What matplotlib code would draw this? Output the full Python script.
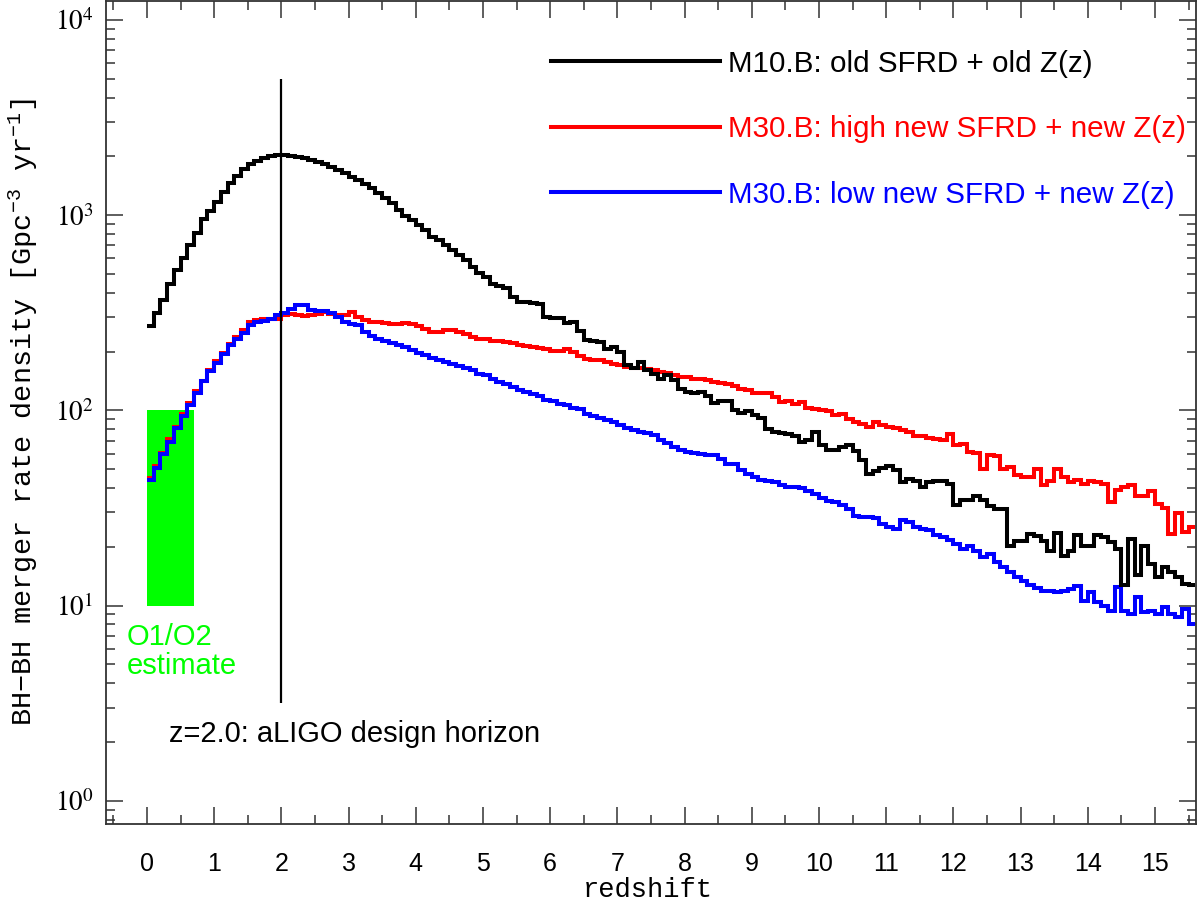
import matplotlib
matplotlib.use("Agg")
import matplotlib.pyplot as plt
import numpy as np
from matplotlib.lines import Line2D
from matplotlib.ticker import MultipleLocator, LogLocator, NullFormatter, FixedLocator

# ---------------- data ----------------
z_start = 0.0
bin_width = 0.1

rate_m10_old = [
    271, 315, 369, 443, 522, 606, 701, 814, 950, 1049,
    1171, 1307, 1453, 1585, 1714, 1820, 1900, 1969, 2010, 2024,
    2024, 2016, 1991, 1954, 1915, 1863, 1819, 1770, 1702, 1636,
    1573, 1511, 1442, 1371, 1291, 1218, 1148, 1061, 988, 942,
    889, 838, 774, 745, 702, 661, 623, 587, 543, 506,
    483, 443, 433, 421, 381, 359, 357, 355, 352, 301,
    298, 296, 280, 283, 255, 229, 226, 224, 207, 211,
    199, 170, 164, 177, 160, 154, 145, 151, 143, 129,
    124, 122, 124, 119, 109, 112, 112, 100, 96.9, 99.3,
    94.3, 91.6, 80.5, 77.4, 76.5, 75.9, 73.6, 68.9, 70.2, 77.4,
    66.1, 62.8, 62.8, 64.9, 66.1, 61.8, 55.4, 47.3, 48.8, 50.8,
    51.6, 49.6, 42.9, 44.6, 43.7, 40.7, 42.9, 43.7, 43.7, 42.1,
    32.6, 34.8, 34.8, 36.6, 34.8, 32.2, 31.3, 31.3, 20.3, 21.5,
    21.5, 23.3, 22.6, 21.5, 19.1, 23.5, 18.0, 19.1, 22.9, 20.3,
    20.3, 23.1, 22.4, 21.1, 19.5, 12.7, 22.0, 14.3, 20.3, 16.4,
    14.0, 15.7, 14.8, 14.0, 12.9, 12.7,
]

rate_m30_high = [
    45.0, 51.6, 60.4, 71.0, 82.2, 95.3, 109, 125, 142, 160,
    178, 197, 218, 238, 257, 282, 290, 292, 294, 295,
    307, 313, 309, 303, 307, 313, 319, 313, 307, 307,
    319, 301, 290, 284, 282, 281, 278, 278, 281, 278,
    270, 262, 252, 252, 257, 257, 252, 247, 238, 233,
    233, 227, 227, 224, 220, 215, 213, 211, 209, 205,
    202, 202, 206, 199, 189, 184, 182, 180, 177, 173,
    170, 167, 165, 165, 162, 160, 157, 155, 151, 149,
    148, 145, 144, 142.5, 139.7, 138, 137, 133, 129, 127,
    122, 123, 123, 117, 110, 112, 108, 110, 103, 101,
    100, 99.3, 94.3, 96.1, 90.6, 87.1, 85.5, 82.1, 87.1, 83.8,
    82.1, 81.1, 79.6, 77.4, 73.6, 73.6, 72.5, 71.6, 70.8, 75.4,
    66.1, 67.4, 61.1, 60.4, 50.2, 58.8, 58.1, 50.2, 51.2, 46.4,
    45.8, 45.5, 50.2, 41.2, 43.4, 50.2, 45.5, 42.9, 44.1, 42.1,
    43.4, 42.7, 41.7, 33.9, 38.9, 40.5, 41.2, 36.6, 36.2, 38.5,
    33.2, 31.7, 23.3, 29.7, 23.8, 25.4,
]

rate_m30_low = [
    43.8, 50.6, 60.0, 68.8, 81.2, 93.5, 107, 123, 141, 159,
    175, 194, 215, 233, 250, 273, 285, 288, 295, 307,
    316, 330, 348, 348, 326, 324, 322, 316, 301, 284,
    278, 275, 252, 240, 231, 226, 221, 217, 211, 203,
    197, 191, 186, 182, 177, 173, 168, 164, 160, 154,
    151, 145, 140, 136, 132, 127, 124, 121, 118, 113,
    111, 108, 106, 103, 101, 96, 93, 91, 89, 87,
    83.8, 81.5, 78.9, 77.4, 76.5, 74.5, 70.2, 68.0, 64.9, 62.5,
    61.5, 60.5, 60.0, 59.3, 58.8, 56.5, 53.2, 52.8, 49.6, 47.3,
    45.5, 44.1, 43.4, 42.9, 41.2, 40.4, 40.4, 40.1, 38.5, 37.1,
    35.6, 34.5, 33.9, 32.8, 31.3, 28.9, 28.4, 28.4, 28.2, 26.2,
    25.2, 24.7, 27.3, 26.8, 25.2, 24.7, 24.3, 22.9, 22.4, 21.7,
    20.7, 19.5, 20.3, 19.1, 17.7, 18.4, 16.7, 15.7, 14.8, 14.0,
    13.4, 12.8, 12.3, 11.9, 11.8, 11.7, 11.9, 12.2, 12.6, 10.6,
    11.7, 10.4, 10.0, 9.4, 12.4, 9.4, 9.06, 11.0, 9.25, 9.4,
    9.06, 9.8, 9.06, 8.7, 9.6, 8.05,
]

series_labels = [
    "M10.B: old SFRD + old Z(z)",
    "M30.B: high new SFRD + new Z(z)",
    "M30.B: low new SFRD + new Z(z)",
]
series_colors = ["#000000", "#ff0000", "#0000ff"]

o1o2_z = [0.0, 0.7]
o1o2_rate = [10.0, 100.0]

horizon_z = 2.0
horizon_rate = [3.15, 5000.0]

x_ticks = list(range(0, 16))
y_ticks = [1, 10, 100, 1000, 10000]
y_tick_labels = [r"$10^{0}$", r"$10^{1}$", r"$10^{2}$", r"$10^{3}$", r"$10^{4}$"]

# ---------------- figure ----------------
plt.rcParams["font.family"] = ["Liberation Sans", "DejaVu Sans"]
plt.rcParams["mathtext.fontset"] = "custom"
plt.rcParams["mathtext.rm"] = "Liberation Mono"
plt.rcParams["mathtext.it"] = "Liberation Mono:italic"
plt.rcParams["mathtext.bf"] = "Liberation Mono:bold"

fig = plt.figure(figsize=(12, 9.05), dpi=100)
ax = fig.add_axes([0.0883, 0.0895, 0.9083, 0.9094])
ax.set_yscale("log")
ax.set_xlim(-0.61, 15.61)
ax.set_ylim(0.76, 12500)

# green O1/O2 box
ax.fill_between(o1o2_z, o1o2_rate[0], o1o2_rate[1], color="#00ff00", lw=0, zorder=1)

def edges_for(vals):
    return z_start + bin_width * np.arange(len(vals) + 1)

lw = 2.9
ax.stairs(rate_m30_high, edges_for(rate_m30_high), baseline=None,
          color=series_colors[1], lw=lw, joinstyle="miter", zorder=3)
ax.stairs(rate_m30_low, edges_for(rate_m30_low), baseline=None,
          color=series_colors[2], lw=lw, joinstyle="miter", zorder=4)
ax.stairs(rate_m10_old, edges_for(rate_m10_old), baseline=None,
          color=series_colors[0], lw=lw, joinstyle="miter", zorder=5)

ax.vlines(horizon_z, horizon_rate[0], horizon_rate[1], color="black", lw=1.6, zorder=6)

# texts
ax.text(-0.30, 6.9, "O1/O2", color="#00ff00", fontsize=21, ha="left", va="center")
ax.text(-0.30, 4.9, "estimate", color="#00ff00", fontsize=21, ha="left", va="center")
ax.text(0.33, 2.2, "z=2.0: aLIGO design horizon", color="black", fontsize=21,
        ha="left", va="center")

# legend
handles = [Line2D([], [], color=c, lw=lw) for c in series_colors]
leg = ax.legend(handles, series_labels, loc="upper right",
                bbox_to_anchor=(0.991, 0.941), frameon=False, fontsize=21.3,
                handlelength=5.7, handletextpad=0.27, labelspacing=1.27,
                borderpad=0, borderaxespad=0, labelcolor="linecolor")

# ticks
ax.xaxis.set_major_locator(FixedLocator(x_ticks))
ax.xaxis.set_minor_locator(MultipleLocator(0.5))
ax.set_xticklabels([str(t) for t in x_ticks])
ax.set_yticks(y_ticks)
ax.set_yticklabels(y_tick_labels, math_fontfamily="stix", fontsize=19.5)
ax.yaxis.set_minor_locator(LogLocator(base=10, subs=np.arange(2, 10)))
ax.yaxis.set_minor_formatter(NullFormatter())
ax.tick_params(which="both", direction="in", top=True, right=True,
               color="#333333")
ax.tick_params(which="major", length=12.5, width=1.1, pad=9)
ax.tick_params(which="minor", length=6.5, width=1.1)
ax.tick_params(axis="x", which="major", labelsize=18, pad=20)
for s in ax.spines.values():
    s.set_linewidth(1.3)
    s.set_color("#333333")

ax.set_xlabel("redshift", family="Liberation Mono", fontsize=19.5, va="center")
ax.xaxis.set_label_coords(0.497, -0.080)
ax.set_ylabel(r"BH$-$BH merger rate density [Gpc$^{-3}$ yr$^{-1}$]",
              family="Liberation Mono", fontsize=20.5, va="center")
ax.yaxis.set_label_coords(-0.076, 0.5)

fig.savefig("out.png", dpi=100)
